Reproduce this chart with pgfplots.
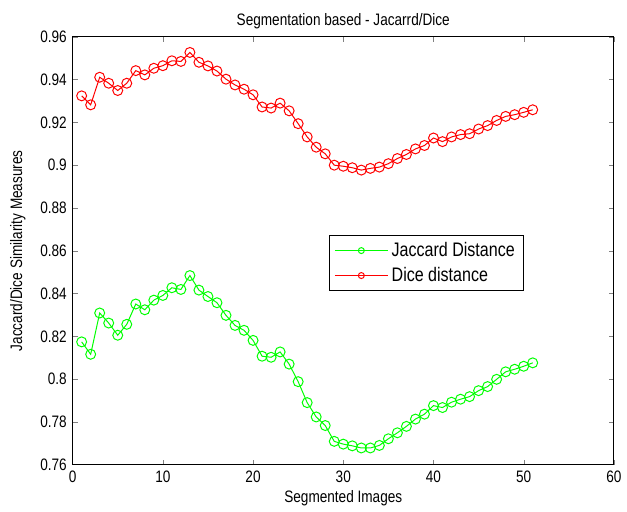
\documentclass[border=0pt]{standalone}
\usepackage{pgfplots}
\pgfplotsset{compat=1.18}
\usepackage{fontspec}
\setmainfont{Liberation Sans}[FakeStretch=0.82]

\pgfplotstableread{
x jac dice
1 0.8174 0.9324
2 0.8116 0.9282
3 0.8309 0.9411
4 0.8262 0.9383
5 0.8205 0.9349
6 0.8256 0.9383
7 0.8351 0.9442
8 0.8324 0.9422
9 0.8369 0.9453
10 0.8391 0.9465
11 0.8427 0.9488
12 0.8419 0.9485
13 0.8484 0.9527
14 0.8416 0.9481
15 0.8386 0.9464
16 0.8357 0.9440
17 0.8298 0.9402
18 0.8251 0.9375
19 0.8228 0.9355
20 0.8181 0.9329
21 0.8107 0.9272
22 0.8102 0.9267
23 0.8127 0.9290
24 0.8070 0.9254
25 0.7988 0.9194
26 0.7890 0.9132
27 0.7823 0.9084
28 0.7783 0.9053
29 0.7709 0.9000
30 0.7696 0.8995
31 0.7688 0.8988
32 0.7678 0.8977
33 0.7678 0.8985
34 0.7690 0.8991
35 0.7721 0.9007
36 0.7749 0.9031
37 0.7779 0.9050
38 0.7813 0.9076
39 0.7836 0.9092
40 0.7876 0.9127
41 0.7867 0.9110
42 0.7892 0.9132
43 0.7906 0.9143
44 0.7918 0.9147
45 0.7946 0.9169
46 0.7965 0.9185
47 0.7999 0.9209
48 0.8034 0.9228
49 0.8046 0.9236
50 0.8060 0.9247
51 0.8076 0.9259
}\datatable

\definecolor{mgreen}{RGB}{0,255,0}
\definecolor{mred}{RGB}{255,0,0}

\begin{document}
\begin{tikzpicture}
\begin{axis}[
    width=326.4pt, height=258pt,
    scale only axis,
    xmin=0, xmax=60, ymin=0.76, ymax=0.96,
    xtick={0,10,20,30,40,50,60},
    ytick={0.76,0.78,0.80,0.82,0.84,0.86,0.88,0.90,0.92,0.94,0.96},
    yticklabel style={/pgf/number format/fixed, /pgf/number format/precision=2},
    /pgf/number format/assume math mode=true,
    tick align=inside,
    major tick length=3pt,
    axis line style={line width=0.6pt},
    title={Segmentation based - Jacarrd/Dice},
    title style={at={(axis description cs:0.5,1)}, anchor=center, yshift=3.6pt},
    xlabel={Segmented Images},
    xlabel style={at={(axis description cs:0.5,0)}, anchor=center, yshift=-20.5pt},
    ylabel={Jaccard/Dice Similarity Measures},
    ylabel style={at={(axis description cs:0,0.5)}, anchor=center, yshift=33pt},
    legend style={at={(axis cs:28.4,0.8673)}, anchor=north west,
        draw=black, line width=0.6pt, font=\fontsize{11.8}{13}\selectfont,
        inner xsep=3pt, inner ysep=2pt, row sep=1pt},
    legend cell align=left,
    legend image code/.code={
        \draw[mark repeat=2, mark phase=2, mark size=1.8pt]
            plot coordinates {(0pt,0pt) (16pt,0pt) (32pt,0pt)};},
]
\addplot[color=mgreen, line width=0.6pt, mark=o, mark size=3pt,
    mark options={line width=0.6pt}] table[x=x, y=jac] {\datatable};
\addlegendentry{Jaccard Distance}
\addplot[color=mred, line width=0.6pt, mark=o, mark size=3pt,
    mark options={line width=0.6pt}] table[x=x, y=dice] {\datatable};
\addlegendentry{Dice distance}
\end{axis}
\useasboundingbox ([shift={(-43.8pt,-27.6pt)}]current axis.south west)
    rectangle ([shift={(6pt,22.2pt)}]current axis.north east);
\end{tikzpicture}
\end{document}
